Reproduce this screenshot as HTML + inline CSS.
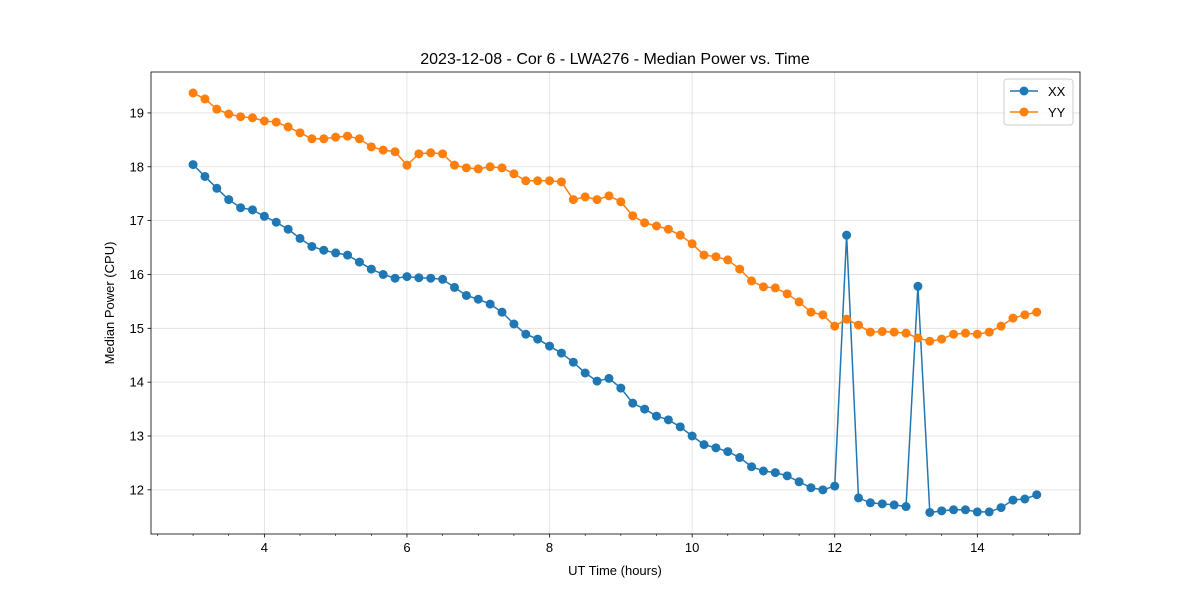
<!DOCTYPE html>
<html><head><meta charset="utf-8"><style>
body{margin:0;background:#fff;font-family:"Liberation Sans","DejaVu Sans",sans-serif}
</style></head><body>
<svg id="c" width="1200" height="600" xmlns="http://www.w3.org/2000/svg"></svg>
<script>
const xTicks=[4,6,8,10,12,14];
const yTicks=[12,13,14,15,16,17,18,19];
const xxValues=[18.04,17.82,17.6,17.39,17.24,17.2,17.08,16.97,16.84,16.67,16.52,16.45,16.4,16.36,16.23,16.1,16.0,15.93,15.96,15.94,15.93,15.91,15.76,15.61,15.54,15.45,15.3,15.08,14.89,14.8,14.67,14.54,14.37,14.17,14.02,14.07,13.89,13.61,13.5,13.37,13.3,13.17,13.0,12.84,12.78,12.71,12.6,12.43,12.35,12.32,12.26,12.15,12.04,12.0,12.07,16.73,11.85,11.76,11.74,11.72,11.69,15.78,11.58,11.61,11.63,11.63,11.59,11.59,11.67,11.81,11.83,11.91];
const yyValues=[19.37,19.26,19.07,18.98,18.93,18.91,18.85,18.83,18.74,18.63,18.52,18.52,18.55,18.57,18.52,18.37,18.31,18.28,18.03,18.24,18.26,18.24,18.03,17.98,17.96,18.0,17.98,17.87,17.74,17.74,17.74,17.72,17.39,17.44,17.39,17.46,17.35,17.09,16.96,16.9,16.84,16.73,16.57,16.36,16.33,16.27,16.1,15.88,15.77,15.75,15.64,15.49,15.3,15.25,15.04,15.17,15.06,14.93,14.94,14.93,14.91,14.82,14.76,14.8,14.89,14.91,14.89,14.93,15.04,15.19,15.25,15.3];
const times=xxValues.map((_,i)=>3+i/6);
const L=151,R=1080,T=72,B=534;
const x0=2.41,x1=15.44,y0=11.18,y1=19.76;
const sx=v=>L+(v-x0)/(x1-x0)*(R-L);
const sy=v=>B-(v-y0)/(y1-y0)*(B-T);
const svg=document.getElementById('c');
const NS='http://www.w3.org/2000/svg';
function mk(tag,attrs,parent){const e=document.createElementNS(NS,tag);for(const k in attrs)e.setAttribute(k,attrs[k]);(parent||svg).appendChild(e);return e;}
function txt(s,attrs){const e=mk('text',attrs);e.textContent=s;return e;}
// grid
xTicks.forEach(v=>{const g=mk('line',{x1:sx(v),x2:sx(v),y1:T,y2:B,stroke:'#b0b0b0','stroke-width':0.8,'stroke-opacity':0.4});

});
yTicks.forEach(v=>{const g=mk('line',{x1:L,x2:R,y1:sy(v),y2:sy(v),stroke:'#b0b0b0','stroke-width':0.8,'stroke-opacity':0.4});

});
// minor x ticks
for(let v=2.5;v<=15.4;v+=0.5){if(Number.isInteger(v)&&v%2===0)continue;const m=mk('line',{x1:sx(v),x2:sx(v),y1:B,y2:B+2,stroke:'#000','stroke-width':0.6});

}
xTicks.forEach(v=>{mk('line',{x1:sx(v),x2:sx(v),y1:B,y2:B+3.5,stroke:'#000','stroke-width':0.8});
const t=txt(v,{x:sx(v),y:B+18,'text-anchor':'middle','font-size':13});

});
yTicks.forEach(v=>{mk('line',{x1:L-3.5,x2:L,y1:sy(v),y2:sy(v),stroke:'#000','stroke-width':0.8});
const t=txt(v,{x:L-7,y:sy(v)+4.5,'text-anchor':'end','font-size':13});

});
function series(vals,color,name){
 const p=mk('polyline',{points:vals.map((v,i)=>sx(times[i])+','+sy(v)).join(' '),fill:'none',stroke:color,'stroke-width':1.5});
 
 
 vals.forEach((v,i)=>{const c=mk('circle',{cx:sx(times[i]),cy:sy(v),r:4.5,fill:color});
 
 });
}
series(xxValues,'#1f77b4','xx');
series(yyValues,'#ff7f0e','yy');
const f=mk('rect',{x:L,y:T,width:R-L,height:B-T,fill:'none',stroke:'#000','stroke-width':0.8});


const ti=txt('2023-12-08 - Cor 6 - LWA276 - Median Power vs. Time',{x:615,y:64,'text-anchor':'middle','font-size':16});


const xl=txt('UT Time (hours)',{x:615,y:575,'text-anchor':'middle','font-size':13});


const yl=txt('Median Power (CPU)',{x:0,y:0,'text-anchor':'middle','font-size':13,transform:'translate(114,303) rotate(-90)'});


// legend
const lg=mk('g',{});


mk('rect',{x:1004,y:79,width:69,height:46,rx:3,fill:'#fff','fill-opacity':0.8,stroke:'#ccc'},lg);
[['XX','#1f77b4',91],['YY','#ff7f0e',112]].forEach(([n,c,y])=>{
 const e=mk('g',{},lg);
 
 
 mk('line',{x1:1010,x2:1038,y1:y,y2:y,stroke:c,'stroke-width':1.5},e);
 mk('circle',{cx:1024,cy:y,r:4.5,fill:c},e);
 const t=mk('text',{x:1048,y:y+5,'font-size':13},e);t.textContent=n;
});
</script>
</body></html>
